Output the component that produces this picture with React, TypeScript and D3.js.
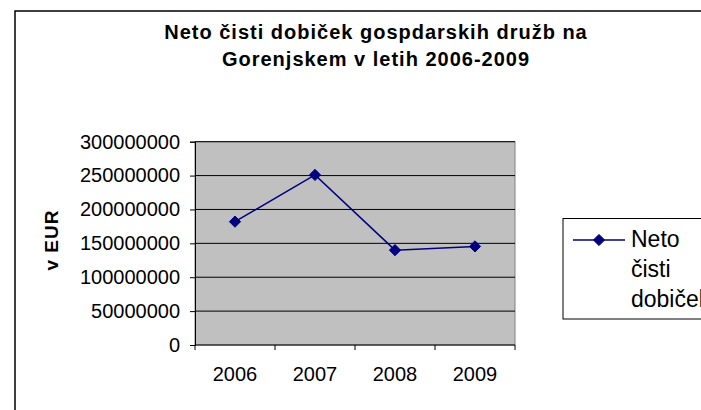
import * as d3 from 'd3';
import React, { useEffect, useRef } from 'react';

const years = ['2006', '2007', '2008', '2009'];
const profit = [182000000, 251000000, 140000000, 145500000];
const yTicks = [0, 50000000, 100000000, 150000000, 200000000, 250000000, 300000000];
const titleLines = ['Neto čisti dobiček gospdarskih družb na', 'Gorenjskem v letih 2006-2009'];
const legendLines = ['Neto', 'čisti', 'dobiček'];
const yTitle = 'v EUR';

const W = 701;
const H = 410;
const FONT = '"Liberation Sans", Arial, sans-serif';

const App = () => {
    const ref = useRef<SVGSVGElement | null>(null);

    useEffect(() => {
        const svg = d3.select(ref.current);
        svg.selectAll('*').remove();

        // plot area
        const plot = { left: 195, right: 515, top: 141.7, bottom: 345 };

        const x = d3.scaleBand().domain(years).range([plot.left, plot.right]).padding(0);
        const y = d3.scaleLinear().domain([0, 300000000]).range([plot.bottom, plot.top]);

        // outer chart border
        svg.append('rect')
            .attr('x', 15).attr('y', 11)
            .attr('width', W).attr('height', H)
            .attr('fill', 'white')
            .attr('stroke', 'black')
            .attr('stroke-width', 1.5);

        // title
        svg.append('g').selectAll('text')
            .data(titleLines)
            .enter().append('text')
            .attr('x', 376)
            .attr('y', (d, i) => 38.5 + i * 27.5)
            .attr('text-anchor', 'middle')
            .style('font-family', FONT)
            .style('font-weight', 'bold')
            .style('font-size', '20px')
            .style('letter-spacing', '1px')
            .text(d => d);

        // plot background
        svg.append('rect')
            .attr('x', plot.left).attr('y', plot.top)
            .attr('width', plot.right - plot.left)
            .attr('height', plot.bottom - plot.top)
            .attr('fill', '#C0C0C0')
            .attr('stroke', '#808080')
            .attr('stroke-width', 1);

        // gridlines
        svg.append('g').selectAll('line')
            .data(yTicks.filter(t => t > 0))
            .enter().append('line')
            .attr('x1', plot.left).attr('x2', plot.right)
            .attr('y1', d => y(d)).attr('y2', d => y(d))
            .attr('stroke', 'black')
            .attr('stroke-width', 1);

        // y axis
        const yAxis = svg.append('g')
            .attr('transform', `translate(${plot.left},0)`)
            .call(d3.axisLeft(y).tickValues(yTicks).tickSize(5).tickPadding(10).tickFormat(d => String(d)));
        yAxis.select('.domain').attr('stroke', 'black');
        yAxis.selectAll('text')
            .style('font-family', FONT)
            .style('font-size', '20px')
            .attr('fill', 'black');

        // x axis with ticks between categories
        const xAxis = svg.append('g').attr('transform', `translate(0,${plot.bottom})`);
        xAxis.append('line')
            .attr('x1', plot.left).attr('x2', plot.right)
            .attr('y1', 0).attr('y2', 0)
            .attr('stroke', 'black');
        const bounds = years.map(d => x(d) as number).concat([plot.right]);
        xAxis.selectAll('.tk')
            .data(bounds)
            .enter().append('line')
            .attr('class', 'tk')
            .attr('x1', d => d).attr('x2', d => d)
            .attr('y1', 0).attr('y2', 5)
            .attr('stroke', 'black');
        xAxis.selectAll('.lbl')
            .data(years)
            .enter().append('text')
            .attr('class', 'lbl')
            .attr('x', d => (x(d) as number) + x.bandwidth() / 2)
            .attr('y', 35.5)
            .attr('text-anchor', 'middle')
            .style('font-family', FONT)
            .style('font-size', '20px')
            .text(d => d);

        // y title
        svg.append('text')
            .attr('transform', `translate(58,240) rotate(-90)`)
            .attr('text-anchor', 'middle')
            .style('font-family', FONT)
            .style('font-weight', 'bold')
            .style('font-size', '19px')
            .style('letter-spacing', '1px')
            .text(yTitle);

        // series
        const cx = (i: number) => (x(years[i]) as number) + x.bandwidth() / 2;
        const line = d3.line<number>()
            .x((d, i) => cx(i))
            .y(d => y(d));
        svg.append('path')
            .datum(profit)
            .attr('fill', 'none')
            .attr('stroke', '#000080')
            .attr('stroke-width', 1.5)
            .attr('d', line);

        const diamond = d3.symbol().type(d3.symbolDiamond2).size(80);
        svg.append('g').selectAll('path')
            .data(profit)
            .enter().append('path')
            .attr('transform', (d, i) => `translate(${cx(i)},${y(d)})`)
            .attr('d', diamond)
            .attr('fill', '#000080')
            .attr('stroke', '#000080');

        // legend
        const legend = svg.append('g');
        legend.append('rect')
            .attr('x', 563).attr('y', 218.5)
            .attr('width', 160).attr('height', 100.5)
            .attr('fill', 'white')
            .attr('stroke', 'black')
            .attr('stroke-width', 1);
        legend.append('line')
            .attr('x1', 573).attr('x2', 625)
            .attr('y1', 240).attr('y2', 240)
            .attr('stroke', '#000080')
            .attr('stroke-width', 1.5);
        legend.append('path')
            .attr('transform', 'translate(599,240)')
            .attr('d', diamond)
            .attr('fill', '#000080')
            .attr('stroke', '#000080');
        legend.selectAll('text')
            .data(legendLines)
            .enter().append('text')
            .attr('x', 631)
            .attr('y', (d, i) => 246.7 + i * 30)
            .style('font-family', FONT)
            .style('font-size', '23px')
            .text(d => d);
    }, []);

    return (
        <div style={{ position: 'absolute', left: 0, top: 0, width: W, height: H, overflow: 'hidden' }}>
            <svg ref={ref} width={W} height={H} style={{ display: 'block', background: 'white' }} />
        </div>
    );
};

export default App;
